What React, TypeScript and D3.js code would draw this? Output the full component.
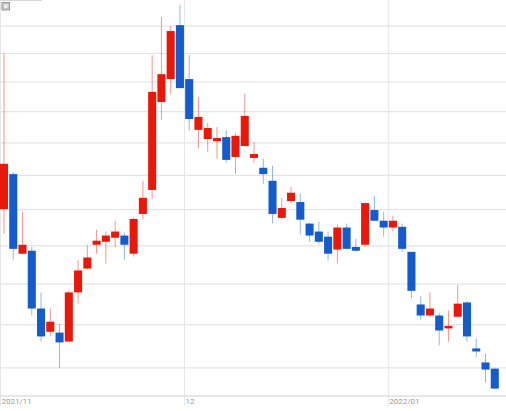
import React from "react";
import * as d3 from "d3";

const dates = [
  "2021-11-01","2021-11-02","2021-11-04","2021-11-05","2021-11-08","2021-11-09","2021-11-10","2021-11-11","2021-11-12","2021-11-15",
  "2021-11-16","2021-11-17","2021-11-18","2021-11-19","2021-11-22","2021-11-24","2021-11-25","2021-11-26","2021-11-29","2021-11-30",
  "2021-12-01","2021-12-02","2021-12-03","2021-12-06","2021-12-07","2021-12-08","2021-12-09","2021-12-10","2021-12-13","2021-12-14",
  "2021-12-15","2021-12-16","2021-12-17","2021-12-20","2021-12-21","2021-12-22","2021-12-23","2021-12-24","2021-12-27","2021-12-28",
  "2021-12-29","2021-12-30","2022-01-04","2022-01-05","2022-01-06","2022-01-07","2022-01-11","2022-01-12","2022-01-13","2022-01-14",
  "2022-01-17","2022-01-18","2022-01-19","2022-01-20",
];
const opens = [1902,2004,1779,1787,1639,1583,1581,1560,1679,1740,1803,1811,1822,1828,1779,1888,1957,2232,2310,2504,2310,2141,2112,2105,2118,2056,2090,2053,2023,1984,1877,1925,1922,1861,1839,1825,1790,1850,1797,1803,1899,1869,1850,1852,1784,1649,1622,1622,1591,1619,1654,1544,1512,1498];
const highs = [2401,2010,1894,1797,1679,1639,1602,1683,1763,1803,1844,1839,1869,1836,1877,1984,2394,2535,2500,2581,2394,2249,2163,2150,2141,2131,2259,2102,2050,2029,1934,1966,1946,1863,1866,1839,1858,1861,1819,1919,1940,1894,1883,1861,1784,1669,1679,1629,1634,1698,1656,1567,1532,1500];
const lows = [1833,1763,1778,1622,1560,1572,1500,1560,1651,1737,1779,1753,1797,1763,1771,1872,1931,2173,2259,2279,2138,2084,2072,2050,2038,2004,2090,2038,1975,1861,1872,1919,1831,1811,1806,1761,1753,1792,1784,1797,1869,1825,1839,1784,1664,1612,1619,1551,1560,1617,1560,1525,1467,1454];
const closes = [2035,1792,1803,1639,1572,1607,1558,1679,1735,1769,1814,1828,1839,1803,1874,1934,2266,2327,2482,2279,2176,2183,2147,2115,2047,2122,2186,2065,2004,1888,1905,1949,1872,1828,1811,1779,1850,1792,1787,1919,1869,1850,1869,1792,1683,1622,1639,1586,1597,1651,1572,1537,1496,1454];
const gridValues = [1500,1600,1700,1800,1900,2000,2100,2200,2300,2400,2500];
const monthStarts = ["2021-11-01","2021-12-01","2022-01-04"];
const monthLabels = ["2021/11","12","2022/01"];

const W = 506, H = 411;
const UP = "#e8190b", DOWN = "#145bcc";

export default function App() {
  const x = d3.scaleBand<string>().domain(dates).range([-0.63, 499.4]).paddingInner(0.13).paddingOuter(0.065);
  const y = d3.scaleLog().domain([1438, 2600]).range([396, 0]);
  const step = x.step();
  const bw = x.bandwidth();
  const gap = (step - bw) / 2;

  return (
    <svg width={W} height={H} style={{ position: "absolute", left: 0, top: 0, background: "#fff" }}>
      <line x1={0} x2={42} y1={0.5} y2={0.5} stroke="#d8d8d8" />
      {gridValues.map((v) => (
        <line key={v} x1={0} x2={W} y1={y(v)} y2={y(v)} stroke="#e4e4e4" strokeWidth={1.2} />
      ))}
      {monthStarts.map((d, i) => {
        const gx = Math.max(0.5, (x(d) as number) - gap);
        return (
          <g key={d}>
            <line x1={gx} x2={gx} y1={0} y2={406} stroke="#e6e6e6" strokeWidth={1} />
            <text x={gx + 1} y={404} fontSize={8} fill="#9a9a9a" fontFamily="Roboto, 'DejaVu Sans', sans-serif">{monthLabels[i]}</text>
          </g>
        );
      })}
      <line x1={0} x2={W} y1={396} y2={396} stroke="#cfcfcf" strokeWidth={1} />
      {dates.map((d, i) => {
        const up = closes[i] >= opens[i];
        const col = up ? UP : DOWN;
        const cx = (x(d) as number) + bw / 2;
        const top = y(Math.max(opens[i], closes[i]));
        const bot = y(Math.min(opens[i], closes[i]));
        return (
          <g key={d}>
            <line x1={cx} x2={cx} y1={y(highs[i])} y2={y(lows[i])} stroke={col} strokeOpacity={0.45} strokeWidth={1} />
            <rect x={x(d) as number} y={top} width={bw} height={Math.max(1.5, bot - top)} fill={col} />
          </g>
        );
      })}
      <rect x={2} y={2.5} width={7.5} height={7.5} fill="#c8c8c8" stroke="#9a9a9a" strokeWidth={1} />
      <rect x={4} y={4.5} width={3.5} height={3.5} fill="#eeeeee" />
    </svg>
  );
}
